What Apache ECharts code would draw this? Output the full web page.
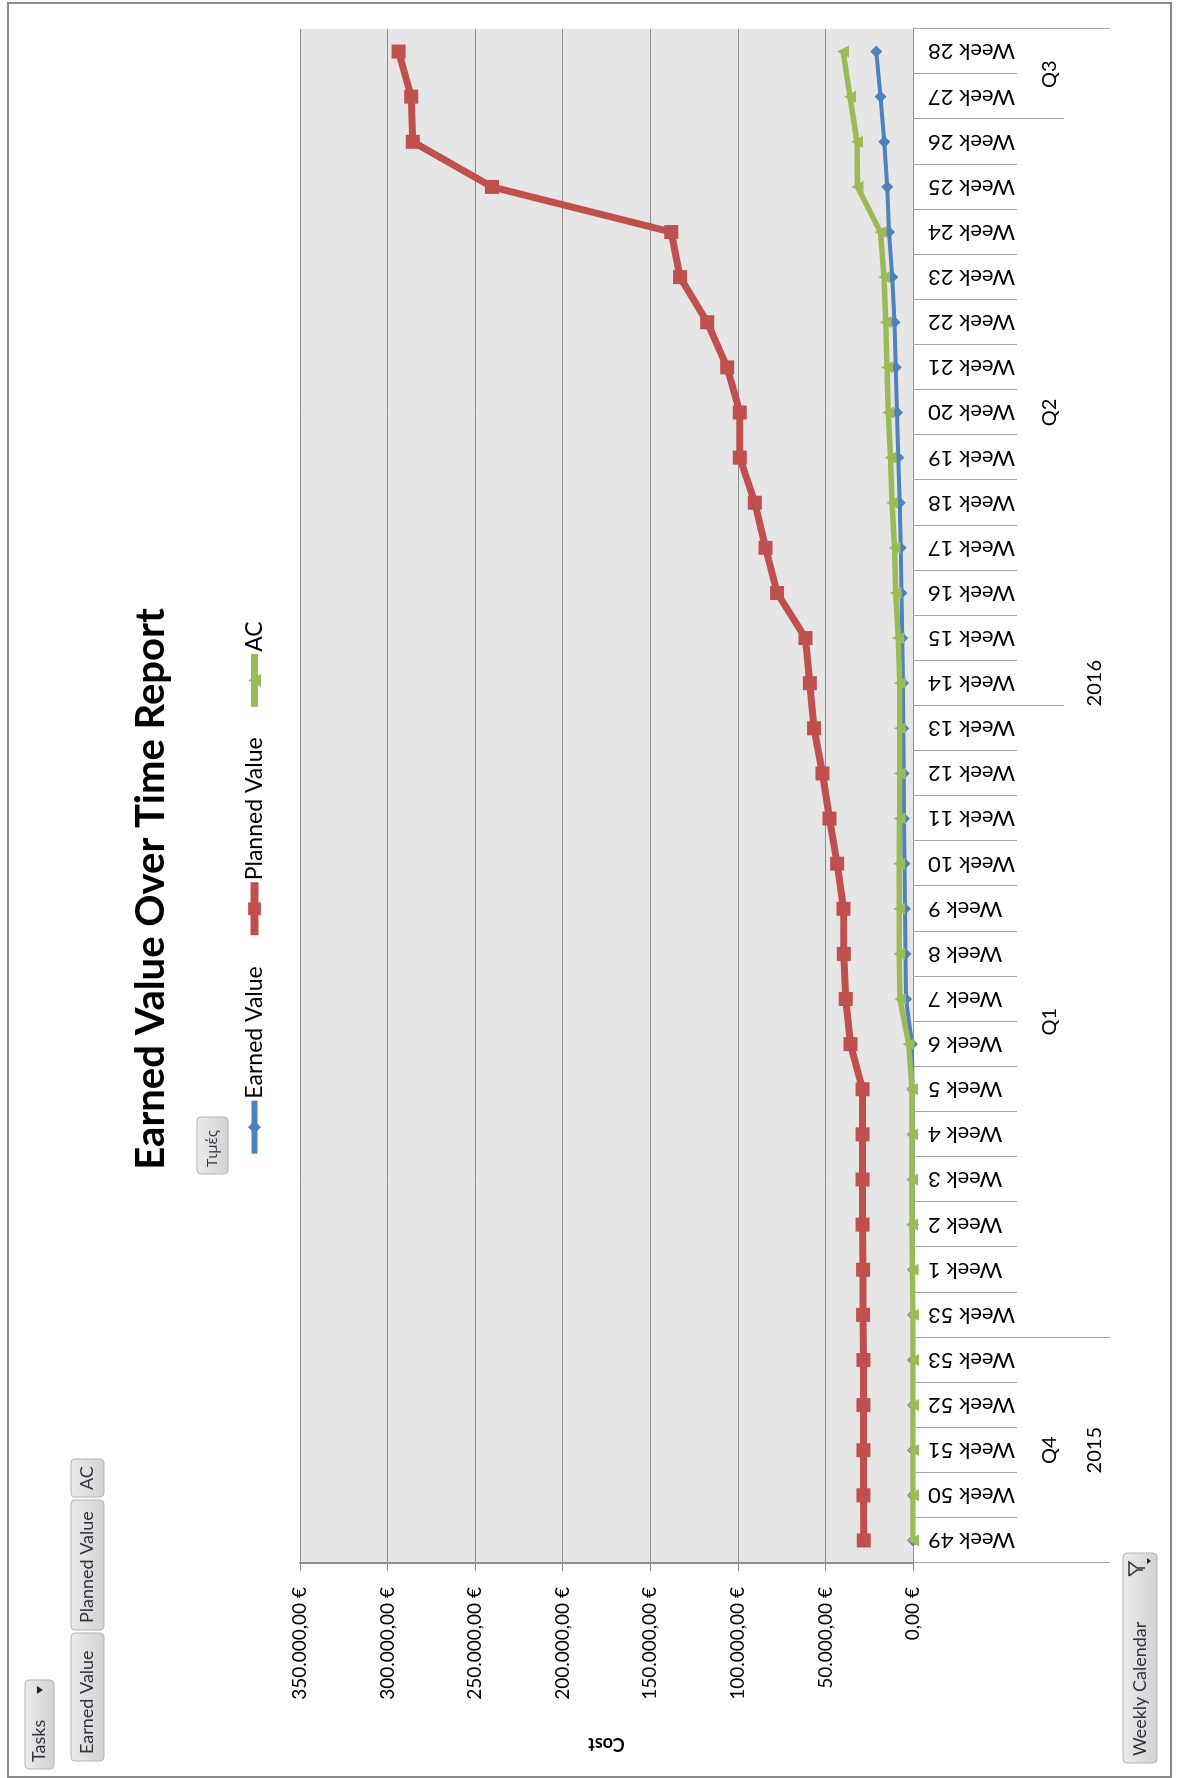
<!DOCTYPE html>
<html>
<head>
<meta charset="utf-8">
<script src="https://cdn.jsdelivr.net/npm/echarts@6/dist/echarts.min.js"></script>
<style>
html,body{margin:0;padding:0;background:#fff;overflow:hidden;width:1178px;height:1778px;}
#wrap{position:absolute;left:0;top:0;width:1778px;height:1178px;transform-origin:0 0;transform:translate(0,1778px) rotate(-90deg);}
#chart{width:1778px;height:1178px;}
</style>
</head>
<body>
<div id="wrap"><div id="chart"></div></div>
<script>
// ---- data ----
const categories = ['Week 49','Week 50','Week 51','Week 52','Week 53','Week 53',
  'Week 1','Week 2','Week 3','Week 4','Week 5','Week 6','Week 7','Week 8','Week 9','Week 10',
  'Week 11','Week 12','Week 13','Week 14','Week 15','Week 16','Week 17','Week 18','Week 19','Week 20',
  'Week 21','Week 22','Week 23','Week 24','Week 25','Week 26','Week 27','Week 28'];
const quarterLabels = ['Q4','Q1','Q2','Q3'];
const quarterStarts = [0, 5, 19, 32];
const yearLabels = ['2015','2016'];
const yearStarts = [0, 5];
const earnedValue = [0,0,0,0,0,0,0,0,100,200,300,
  600,4000,4300,4600,4800,5100,5300,5500,5700,6100,6500,7000,7600,8400,9100,9900,10600,11800,13700,14700,16400,18600,21000];
const plannedValue = [28100,28300,28300,28300,28300,28500,28500,28800,28800,28800,28800,
  35700,38400,39500,39700,43300,47700,51700,56500,58900,61400,77600,84200,90300,98900,98900,106100,117500,133000,138000,240400,285600,286500,293700];
const actualCost = [0,0,0,0,0,0,300,500,500,600,600,
  2500,7400,7900,7900,7900,7700,7600,7600,7600,8400,9900,10600,12000,12900,14100,14800,15600,16500,18600,31700,32000,36000,39900];
const valueMin = 0, valueMax = 350000, valueStep = 50000;
const chartTitle = 'Earned Value Over Time Report';
const axisTitle = 'Cost';

// ---- chart ----
const FONT = 'Lato, "Open Sans", sans-serif';
const GRID = '#8c8c8c';
const C_EV = '#4F81BD', C_PV = '#C0504D', C_AC = '#9BBB59';
function euro(v){
  const s = Math.round(v).toString().replace(/\B(?=(\d{3})+(?!\d))/g, '.');
  return s + ',00 €';
}
const chart = echarts.init(document.getElementById('chart'), null, {renderer:'canvas', width:1778, height:1178});

function groupTicks(starts){ return function(i){ return starts.indexOf(i) >= 0; }; }

const option = {
  animation: false,
  backgroundColor: '#ffffff',
  title: {
    text: chartTitle, left: 'center', top: 131, padding: 0,
    textStyle: {fontFamily: FONT, fontSize: 40, fontWeight: 'bold', color: '#000'}
  },
  legend: {
    left: 'center', top: 243, padding: 0, itemWidth: 53, itemHeight: 16, itemGap: 27,
    textStyle: {fontFamily: FONT, fontSize: 23, color: '#000', padding:[0,0,0,-3]},
    data: [
      {name: 'Earned Value', lineStyle: {width: 6, color: C_EV}},
      {name: 'Planned Value', lineStyle: {width: 8, color: C_PV}},
      {name: 'AC', lineStyle: {width: 7, color: C_AC}}
    ]
  },
  grid: {left: 215, right: 29, top: 300, bottom: 265, show: true, backgroundColor: '#E6E6E6', borderWidth: 0},
  xAxis: [
    {
      type: 'category', data: categories, position: 'bottom', boundaryGap: true,
      axisLine: {show: true, lineStyle: {color: GRID, width: 1}},
      axisTick: {show: true, interval: 0, length: 104, lineStyle: {color: '#a6a6a6', width: 1}},
      axisLabel: {interval: 0, rotate: 90, margin: 15, fontFamily: FONT, fontSize: 22, color: '#000'},
      splitLine: {show: false}
    },
    {
      type: 'category', data: categories, position: 'bottom', boundaryGap: true,
      axisLine: {show: false}, axisLabel: {show: false}, splitLine: {show: false},
      axisTick: {show: true, interval: groupTicks(quarterStarts), length: 151, lineStyle: {color: '#a6a6a6', width: 1}}
    },
    {
      type: 'category', data: categories, position: 'bottom', boundaryGap: true,
      axisLine: {show: false}, axisLabel: {show: false}, splitLine: {show: false},
      axisTick: {show: true, interval: groupTicks(yearStarts), length: 197, lineStyle: {color: '#a6a6a6', width: 1}}
    }
  ],
  yAxis: {
    type: 'value', min: valueMin, max: valueMax, interval: valueStep, position: 'left',
    name: axisTitle, nameLocation: 'middle', nameRotate: 90, nameGap: 172,
    nameTextStyle: {fontFamily: FONT, fontSize: 18, fontWeight: 'bold', color: '#000'},
    axisLine: {show: true, lineStyle: {color: GRID, width: 2}},
    axisTick: {show: true, length: 8, lineStyle: {color: GRID}},
    axisLabel: {formatter: euro, margin: 24, fontFamily: FONT, fontSize: 19, color: '#000'},
    splitLine: {show: true, lineStyle: {color: GRID, width: 1}}
  },
  series: [
    {name: 'Earned Value', type: 'line', data: earnedValue, symbol: 'diamond', symbolSize: 12,
     lineStyle: {width: 4, color: C_EV}, itemStyle: {color: C_EV}, z: 2},
    {name: 'Planned Value', type: 'line', data: plannedValue, symbol: 'rect', symbolSize: 14,
     lineStyle: {width: 7, color: C_PV}, itemStyle: {color: C_PV}, z: 3},
    {name: 'AC', type: 'line', data: actualCost, symbol: 'triangle', symbolSize: 12,
     lineStyle: {width: 5.5, color: C_AC}, itemStyle: {color: C_AC}, z: 4}
  ]
};
chart.setOption(option);

// ---- pivot-chart buttons and group labels ----
function btnFill(){
  return new echarts.graphic.LinearGradient(0, 0, 0, 1, [
    {offset: 0, color: '#EBEBEB'}, {offset: 1, color: '#D2D2D2'}]);
}
function button(x, y, w, h, text, extra, font){
  const children = [
    {type: 'rect', shape: {x: x, y: y, width: w, height: h, r: 4},
     style: {fill: btnFill(), stroke: '#B4B4B4', lineWidth: 1}},
    {type: 'text', x: x + 7, y: y + h / 2,
     style: {text: text, fill: '#2f3342', font: font || ('18px ' + FONT), align: 'left', verticalAlign: 'middle'}}
  ];
  return {type: 'group', children: children.concat(extra || [])};
}
const elements = [];
elements.push({type: 'rect', shape: {x: 1, y: 8, width: 1774, height: 1163},
  style: {fill: 'none', stroke: '#8a8a8a', lineWidth: 2}, silent: true});
elements.push(button(9, 25, 89, 29, 'Tasks', [
  {type: 'polygon', shape: {points: [[84, 37], [92, 37], [88, 43]]}, style: {fill: '#222'}}
]));
elements.push(button(17, 71, 128, 33, 'Earned Value'));
elements.push(button(148, 71, 130, 33, 'Planned Value'));
elements.push(button(281, 71, 38, 33, 'AC'));
elements.push(button(604, 197, 57, 31, 'Τιμές', null, '15px "Open Sans", sans-serif'));
elements.push(button(15, 1123, 210, 34, 'Weekly Calendar', [
  {type: 'polyline', shape: {points: [[202, 1129], [216, 1129], [210, 1137], [210, 1145]]},
   style: {stroke: '#333', lineWidth: 1.5, fill: 'none'}},
  {type: 'polyline', shape: {points: [[202, 1129], [208, 1137], [208, 1143]]},
   style: {stroke: '#333', lineWidth: 1.5, fill: 'none'}},
  {type: 'polygon', shape: {points: [[214, 1147], [220, 1147], [217, 1151]]}, style: {fill: '#222'}}
]));

function groupCenters(starts){
  const res = [];
  for (let g = 0; g < starts.length; g++) {
    const s = starts[g];
    const e = (g + 1 < starts.length ? starts[g + 1] : categories.length) - 1;
    const p1 = chart.convertToPixel({xAxisIndex: 0}, s);
    const p2 = chart.convertToPixel({xAxisIndex: 0}, e);
    res.push((p1 + p2) / 2);
  }
  return res;
}
const qc = groupCenters(quarterStarts);
quarterLabels.forEach(function(t, i){
  elements.push({type: 'text', x: qc[i], y: 1050,
    style: {text: t, font: '20px ' + FONT, fill: '#000', align: 'center', verticalAlign: 'middle'}});
});
const yc = groupCenters(yearStarts);
yearLabels.forEach(function(t, i){
  elements.push({type: 'text', x: yc[i], y: 1095,
    style: {text: t, font: '20px ' + FONT, fill: '#000', align: 'center', verticalAlign: 'middle'}});
});
chart.setOption({graphic: {elements: elements}});
</script>
</body>
</html>
